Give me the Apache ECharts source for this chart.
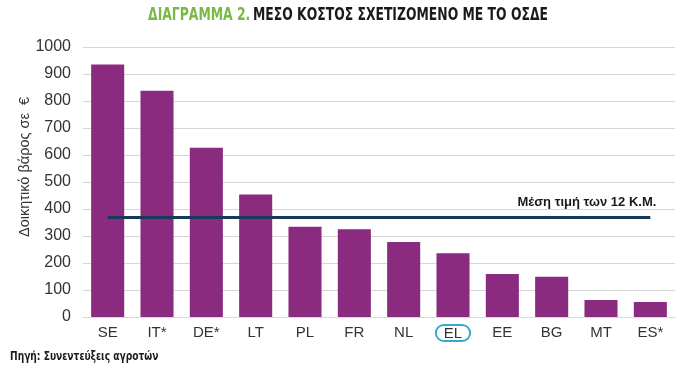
<!DOCTYPE html>
<html>
<head>
<meta charset="utf-8">
<script src="https://cdn.jsdelivr.net/npm/echarts@6/dist/echarts.min.js"></script>
<style>html,body{margin:0;padding:0;background:#fff}#c{width:700px;height:372px}</style>
</head>
<body>
<div id="c"></div>
<script>
const categories = ['SE', 'IT*', 'DE*', 'LT', 'PL', 'FR', 'NL', 'EL', 'EE', 'BG', 'MT', 'ES*'];
const values = [935, 838, 627, 454, 334, 325, 278, 236, 159, 149, 63, 56];
const meanValue = 370;
const meanLabel = 'Μέση τιμή των 12 Κ.Μ.';
const highlighted = 'EL';
const titleGreen = 'ΔΙΑΓΡΑΜΜΑ 2.';
const titleDark = 'ΜΕΣΟ ΚΟΣΤΟΣ ΣΧΕΤΙΖΟΜΕΝΟ ΜΕ ΤΟ ΟΣΔΕ';
const yAxisName = 'Δοικητικό βάρος σε  €';
const sourceText = 'Πηγή: Συνεντεύξεις αγροτών';

const chart = echarts.init(document.getElementById('c'), null, {renderer: 'canvas'});
const condensed = '"DejaVu Sans Condensed", "DejaVu Sans", sans-serif';
const sans = '"Liberation Sans", Arial, sans-serif';
chart.setOption({
  animation: false,
  backgroundColor: '#fff',
  graphic: [
    {type: 'text', x: 348, y: 16, scaleX: 0.81, style: {
      text: '{g|' + titleGreen + '} {k|' + titleDark + '}',
      align: 'center', verticalAlign: 'middle',
      rich: {
        g: {fill: '#78b843', fontFamily: condensed, fontWeight: 'bold', fontSize: 17},
        k: {fill: '#1a1a1a', fontFamily: condensed, fontWeight: 'bold', fontSize: 17}
      }
    }},
    {type: 'text', x: 10, y: 357, scaleX: 0.78, style: {text: sourceText, fill: '#1a1a1a', font: 'bold 13px ' + condensed, verticalAlign: 'middle'}},
    {type: 'text', x: 25, y: 167, rotation: Math.PI / 2, style: {text: yAxisName, fill: '#333', font: '14.5px ' + sans, align: 'center', verticalAlign: 'middle'}}
  ],
  grid: {left: 83, right: 25, top: 47, bottom: 55},
  xAxis: {
    type: 'category',
    data: categories,
    axisLine: {show: true, lineStyle: {color: '#d9d9d9'}},
    axisTick: {show: false},
    axisLabel: {
      interval: 0,
      color: '#333', fontSize: 15, fontFamily: sans, margin: 8,
      formatter: function (v) { return v === highlighted ? '{c|' + v + '}' : v; },
      rich: {
        c: {color: '#333', fontSize: 15, fontFamily: sans,
            borderColor: '#3aa8c9', borderWidth: 2, borderRadius: 10, padding: [1, 8, 0, 8]}
      }
    }
  },
  yAxis: {
    type: 'value',
    min: 0, max: 1000, interval: 100,
    axisLine: {show: false},
    axisTick: {show: false},
    axisLabel: {color: '#333', fontSize: 16, fontFamily: sans, margin: 12, formatter: function (v) { return String(v); }},
    splitLine: {lineStyle: {color: '#d6d6d6', width: 1}}
  },
  series: [{
    type: 'bar',
    data: values,
    barWidth: '67%',
    itemStyle: {color: '#8a2b7f'},
    markLine: {
      silent: true,
      symbol: 'none',
      lineStyle: {color: '#183a5a', width: 3, type: 'solid'},
      label: {
        show: true, position: 'insideEndTop', formatter: meanLabel,
        color: '#1a1a1a', fontWeight: 'bold', fontSize: 13,
        fontFamily: sans, distance: [-6, 8]
      },
      data: [[{coord: [categories[0], meanValue]}, {coord: [categories[categories.length - 1], meanValue]}]]
    }
  }]
});
</script>
</body>
</html>
